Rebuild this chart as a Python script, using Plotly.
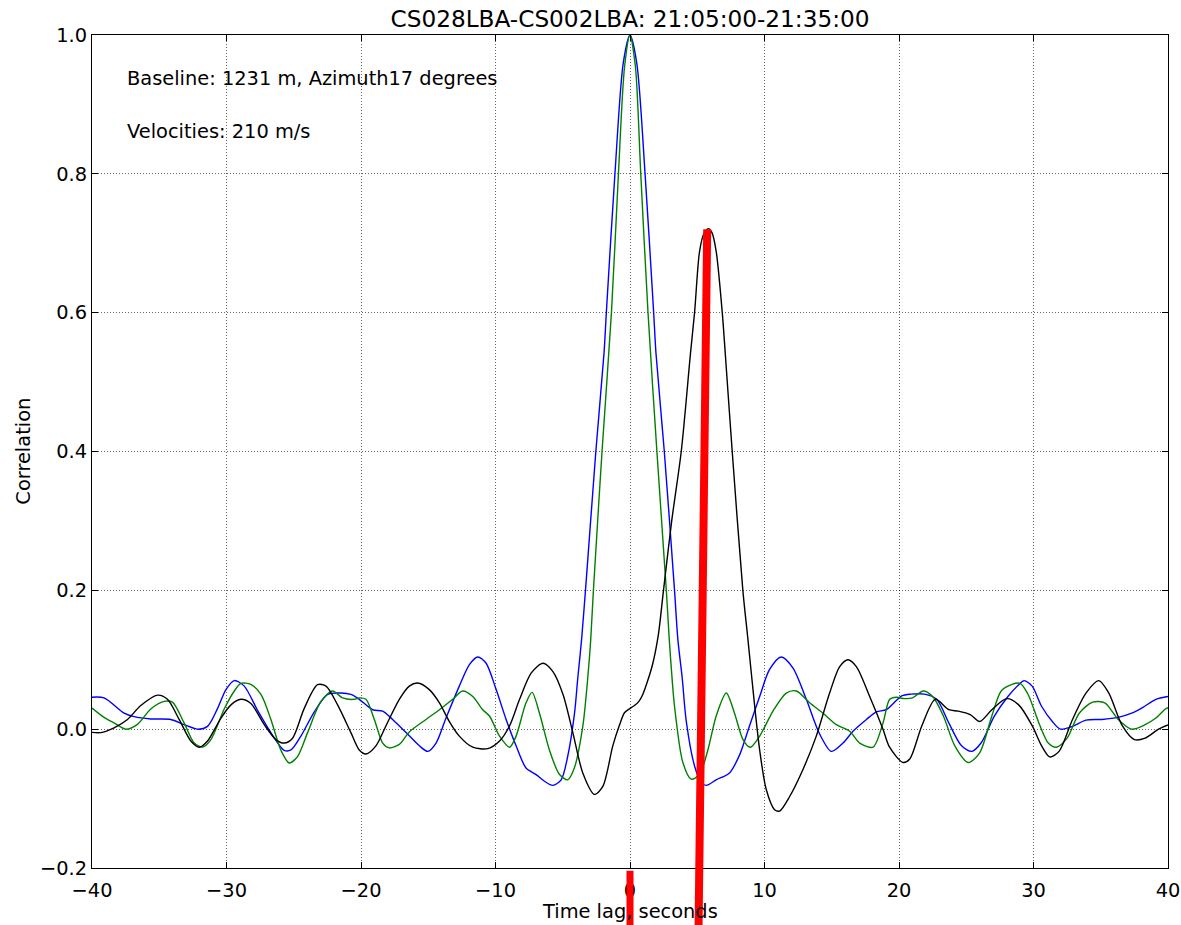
import plotly.graph_objects as go

# ---------------- data ----------------
blue_x = [-40, -39.1, -37.61, -36.87, -35.63, -34.14, -33.15, -32.15, -31.41, -30.66, -30.04,
          -29.42, -28.68, -27.69, -26.7, -25.71, -25.21, -24.47, -23.47, -22.48, -21.49, -20.75,
          -20.13, -19.13, -18.39, -17.65, -16.65, -15.66, -15.04, -14.42, -13.68, -12.69, -11.94,
          -11.32, -10.7, -9.95, -9.21, -8.47, -7.73, -6.98, -6.36, -5.74, -5.12, -4.63, -4.13,
          -3.88, -3.6, -3.31, -2.54, -1.93, -1.76, -1.12, -0.5, 0.0,
          0.5, 1.12, 1.76, 1.93, 2.55, 3.31, 3.56, 3.88, 4.18, 4.80, 5.30, 5.67, 6.41, 7.40,
          8.15, 8.89, 9.64, 10.38, 11.25, 12.12, 13.11, 14.10, 14.97, 15.84, 16.58, 17.58,
          18.32, 19.06, 20.2, 20.9, 21.9, 22.8, 23.7, 24.65, 25.4, 26.1, 27.1, 28.1, 28.9,
          29.3, 29.9, 30.6, 31.4, 32.0, 32.9, 33.9, 35.1, 36.3, 37.3, 38.1, 39.1, 40]
blue_y = [0.046, 0.045, 0.023, 0.018, 0.0147, 0.014, 0.0065, 0.0, 0.004, 0.03, 0.057,
          0.07, 0.062, 0.027, -0.005, -0.0305, -0.03, -0.01, 0.025, 0.05, 0.052, 0.05,
          0.043, 0.028, 0.026, 0.014, -0.0048, -0.024, -0.032, -0.02, 0.016, 0.062, 0.093,
          0.104, 0.095, 0.057, 0.014, -0.024, -0.056, -0.0655, -0.075, -0.081, -0.073, -0.039, 0.022,
          0.074, 0.129, 0.2, 0.4, 0.542, 0.6, 0.8, 0.96, 1.0,
          0.96, 0.8, 0.6, 0.542, 0.4, 0.2, 0.129, 0.074, 0.012, -0.053, -0.077, -0.081, -0.073, -0.063,
          -0.037, 0.005, 0.047, 0.086, 0.104, 0.088, 0.043, -0.007, -0.032, -0.02, -0.003, 0.014,
          0.025, 0.028, 0.048, 0.0505, 0.0505, 0.043, 0.009, -0.024, -0.032, -0.02, 0.019, 0.047, 0.064,
          0.07, 0.062, 0.033, 0.011, 0.0, 0.004, 0.013, 0.014, 0.017, 0.023, 0.031, 0.043, 0.047]

green_x = [-40, -39.1, -38.36, -37.49, -36.62, -35.63, -34.64, -34.02, -33.15, -32.4, -31.78,
           -31.16, -30.17, -29.42, -28.93, -28.19, -27.44, -26.7, -25.96, -25.34, -24.72, -23.97,
           -22.98, -22.11, -21.37, -20.5, -20.13, -19.63, -19.01, -18.39, -17.9, -17.15, -16.41,
           -15.17, -14.17, -13.18, -12.44, -11.69, -10.95, -10.45, -9.7, -8.95, -8.47, -7.73,
           -7.28, -6.73, -5.99, -5.25, -4.63, -4.14, -3.51, -3.14, -2.92, -2.72, -2.08, -1.38,
           -0.86, -0.4, 0.0,
           0.4, 0.8, 1.34, 2.0, 2.7, 2.92, 3.14, 3.31, 3.93, 4.55, 5.17, 5.79, 6.41, 7.16, 7.77,
           8.40, 8.94, 9.64, 10.63, 11.62, 12.37, 13.36, 14.35, 15.34, 16.33, 17.08, 18.07, 18.81,
           19.31, 19.81, 20.4, 21.0, 21.8, 22.5, 23.3, 24.15, 25.15, 26.0, 26.9, 27.6, 28.4, 29.0,
           29.6, 30.4, 31.1, 31.7, 32.5, 33.4, 34.4, 35.3, 36.3, 37.3, 38.3, 39.1, 39.8, 40]
green_y = [0.0305, 0.017, 0.009, 0.0, 0.007, 0.029, 0.04, 0.039, 0.009, -0.02, -0.0257,
           -0.015, 0.029, 0.055, 0.066, 0.0645, 0.05, 0.014, -0.03, -0.0487, -0.0395, -0.005,
           0.04, 0.055, 0.045, 0.043, 0.045, 0.043, 0.014, -0.02, -0.027, -0.022, -0.004,
           0.014, 0.028, 0.043, 0.055, 0.047, 0.028, 0.019, -0.01, -0.026, -0.01, 0.038,
           0.053, 0.023, -0.03, -0.065, -0.073, -0.056, 0.004, 0.074, 0.129, 0.2, 0.4, 0.6,
           0.8, 0.955, 1.0,
           0.955, 0.8, 0.6, 0.4, 0.2, 0.129, 0.07, 0.033, -0.048, -0.072, -0.065, -0.03, 0.019, 0.052, 0.023,
           -0.015, -0.026, -0.01, 0.026, 0.052, 0.055, 0.038, 0.023, 0.0065, -0.003, -0.02, -0.026, 0.009,
           0.043, 0.046, 0.044, 0.045, 0.055, 0.047, 0.019, -0.024, -0.048, -0.034, 0.019, 0.055, 0.0645, 0.066,
           0.05, 0.009, -0.02, -0.026, -0.013, 0.023, 0.039, 0.038, 0.014, 0.0, 0.0065, 0.016, 0.029, 0.031]

black_x = [-40, -39.35, -38.36, -37.36, -36.37, -35.13, -34.39, -33.52, -32.65, -32.03, -31.41,
           -30.41, -29.67, -28.93, -28.19, -27.19, -26.33, -25.71, -25.09, -24.22, -23.23, -22.6,
           -21.74, -20.75, -20.13, -19.63, -18.89, -18.14, -17.15, -16.41, -15.79, -14.92, -14.17,
           -13.43, -12.69, -11.69, -10.57, -9.7, -8.95, -8.21, -7.34, -6.47, -5.73, -4.98, -4.25,
           -3.51, -2.64, -2.01, -1.28, -0.78, -0.4, 0.09, 0.33, 0.66, 0.95, 1.32, 1.7, 2.1, 2.49,
           3.1, 3.81, 4.5, 4.8, 5.17, 5.5, 5.84, 6.1, 6.41, 6.86, 7.08, 7.6, 8.39, 8.77, 9.26,
           9.64, 10.13, 10.75, 11.12, 11.87, 12.86, 13.85, 14.84, 15.59, 16.21, 16.83, 17.82,
           18.81, 19.3, 20.3, 20.8, 21.7, 22.7, 23.7, 24.4, 25.3, 26.0, 26.9, 28.0, 28.9, 29.9,
           30.6, 31.2, 31.9, 32.9, 33.9, 34.85, 35.6, 36.6, 37.5, 38.3, 39.3, 40]
black_y = [-0.0046, -0.005, 0.002, 0.014, 0.034, 0.049, 0.043, 0.014, -0.017, -0.026, -0.017,
           0.016, 0.035, 0.043, 0.037, 0.0065, -0.015, -0.02, -0.013, 0.03, 0.064, 0.062,
           0.035, -0.005, -0.03, -0.0357, -0.024, 0.005, 0.043, 0.062, 0.0665, 0.057, 0.038,
           0.011, -0.01, -0.026, -0.028, -0.017, 0.005, 0.043, 0.081, 0.095, 0.083, 0.05, -0.005,
           -0.063, -0.094, -0.082, -0.024, 0.006, 0.024, 0.031, 0.034, 0.04, 0.05, 0.07, 0.095, 0.135, 0.2,
           0.3, 0.4, 0.542, 0.6, 0.688, 0.714, 0.721, 0.715, 0.688, 0.6, 0.542, 0.4, 0.2, 0.129, 0.035,
           -0.03, -0.087, -0.116, -0.118, -0.097, -0.058, -0.01, 0.052, 0.09, 0.1, 0.09, 0.047,
           0.0, -0.026, -0.048, -0.043, 0.005, 0.043, 0.028, 0.026, 0.021, 0.011, 0.028, 0.044, 0.035, 0.005,
           -0.024, -0.040, -0.032, 0.014, 0.052, 0.07, 0.052, 0.005, -0.015, -0.013, 0.0, 0.006]

# red marker lines (data coordinates: start x, start y, end x, end y)
red_x0 = [0.0, 5.09]
red_y0 = [-0.296, -0.296]
red_x1 = [0.0, 5.74]
red_y1 = [-0.204, 0.72]
red_widths = [7, 8]

x_ticks = [-40, -30, -20, -10, 0, 10, 20, 30, 40]
y_ticks = [-0.2, 0.0, 0.2, 0.4, 0.6, 0.8, 1.0]
x_range = [-40, 40]
y_range = [-0.2, 1.0]

title_text = "CS028LBA-CS002LBA: 21:05:00-21:35:00"
info_lines = ["Baseline: 1231 m, Azimuth17 degrees", "Velocities: 210 m/s"]
info_x = -37.5
info_y = [0.937, 0.861]

# ---------------- figure ----------------
FONT = "DejaVu Sans"
FS = 19.4
W, H = 1181, 925
fig = go.Figure()
for xs, ys, col in [(blue_x, blue_y, "#0000ff"), (green_x, green_y, "#008000"), (black_x, black_y, "#000000")]:
    fig.add_trace(go.Scatter(x=xs, y=ys, mode="lines",
                             line=dict(color=col, width=1.4, shape="spline", smoothing=0.8),
                             showlegend=False, hoverinfo="skip"))

def to_paper_y(v):
    return (v - y_range[0]) / (y_range[1] - y_range[0])

for x0, y0, x1, y1, w in zip(red_x0, red_y0, red_x1, red_y1, red_widths):
    fig.add_shape(type="line", xref="x", yref="paper", x0=x0, x1=x1,
                  y0=to_paper_y(y0), y1=to_paper_y(y1),
                  line=dict(color="#ff0000", width=w), layer="above")

for txt, yy in zip(info_lines, info_y):
    fig.add_annotation(x=info_x, y=yy, xref="x", yref="y", text=txt, showarrow=False,
                       xanchor="left", yanchor="middle", borderpad=0,
                       font=dict(family=FONT, size=FS, color="black"))

fig.add_annotation(x=0.5, y=-0.0528, xref="paper", yref="paper", text="Time lag, seconds",
                   showarrow=False, xanchor="center", yanchor="middle",
                   font=dict(family=FONT, size=FS, color="black"))
fig.add_annotation(x=-0.064, y=0.5, xref="paper", yref="paper", text="Correlation",
                   showarrow=False, xanchor="center", yanchor="middle", textangle=-90,
                   font=dict(family=FONT, size=FS, color="black"))

axis_common = dict(showline=True, linecolor="black", linewidth=1, mirror="ticks",
                   ticks="inside", ticklen=6, tickwidth=1, tickcolor="black",
                   showgrid=True, gridcolor="rgba(0,0,0,0.6)", gridwidth=1, griddash="1px,2px",
                   zeroline=False, automargin=False,
                   tickfont=dict(family=FONT, size=FS, color="black"))

fig.update_xaxes(range=x_range, tickvals=x_ticks, ticktext=[str(t).replace("-", "\u2212") for t in x_ticks],
                 ticklabelstandoff=5, **axis_common)
fig.update_yaxes(range=y_range, tickvals=y_ticks,
                 ticktext=[("%.1f" % t).replace("-", "\u2212") for t in y_ticks],
                 ticklabelstandoff=0, **axis_common)

fig.update_layout(
    width=W, height=H,
    margin=dict(l=92, r=13, t=35, b=57),
    paper_bgcolor="white", plot_bgcolor="white",
    title=dict(text=title_text, x=0.5, xref="paper", y=1 - 19 / H, yanchor="middle", xanchor="center",
               font=dict(family=FONT, size=23.2, color="black")),
    font=dict(family=FONT, color="black"),
)

# remove the default page margin / scrollbars so the figure sits at the window origin
fig.write_html("out.html", config={"displayModeBar": False}, post_script=(
    "document.body.style.margin='0px';"
    "document.body.style.overflow='hidden';"
    "document.documentElement.style.overflow='hidden';"))
